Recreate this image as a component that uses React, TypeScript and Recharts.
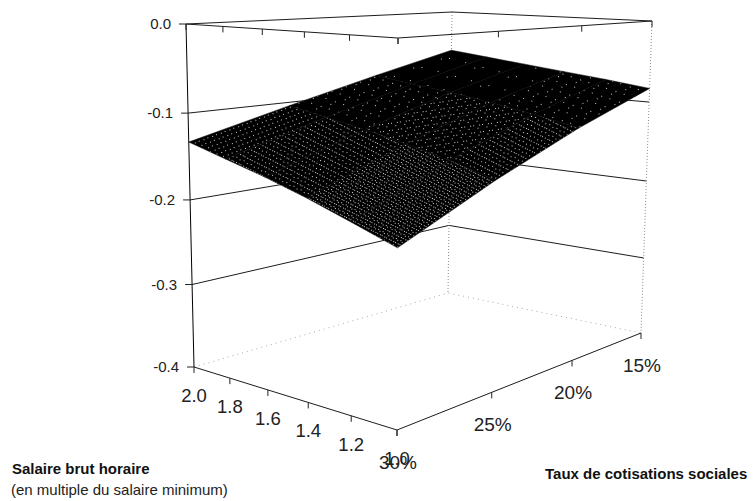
import { ScatterChart, Scatter, XAxis, YAxis } from 'recharts'

const wages = [2.0, 1.8, 1.6, 1.4, 1.2, 1.0]
const rates = [15, 20, 25, 30]
const zTicks = [0, -0.1, -0.2, -0.3, -0.4]

// effect, one row per rate, one column per wage
const surface = [
  [-0.052, -0.058, -0.064, -0.07, -0.076, -0.083],
  [-0.077, -0.084, -0.09, -0.098, -0.107, -0.118],
  [-0.104, -0.113, -0.122, -0.133, -0.145, -0.16],
  [-0.133, -0.146, -0.159, -0.174, -0.191, -0.209],
]

// which dot texture each surface cell gets, same layout as surface
const cellTexture = [
  ['tex0', 'tex0', 'tex0', 'tex1', 'tex1'],
  ['tex1', 'tex1', 'tex2', 'tex2', 'tex4'],
  ['tex3', 'tex4', 'tex4', 'tex5', 'tex5'],
]

// box corners in page pixels: wage 2/rate 30, wage 1/rate 30, wage 1/rate 15, wage 2/rate 15
const floorCorners = [[194, 367], [397, 430], [641, 333], [448, 293]]
const topCorners = [[186, 24], [398, 38], [652, 21], [452, 12]]

function homography(c: number[][]) {
  const [[x0, y0], [x1, y1], [x2, y2], [x3, y3]] = c
  const dx1 = x1 - x2, dx2 = x3 - x2, sx = x0 - x1 + x2 - x3
  const dy1 = y1 - y2, dy2 = y3 - y2, sy = y0 - y1 + y2 - y3
  const den = dx1 * dy2 - dx2 * dy1
  const g = (sx * dy2 - dx2 * sy) / den
  const h = (dx1 * sy - sx * dy1) / den
  const a = x1 - x0 + g * x1, b = x3 - x0 + h * x3
  const d = y1 - y0 + g * y1, e = y3 - y0 + h * y3
  return (u: number, v: number) => {
    const w = g * u + h * v + 1
    return [(a * u + b * v + x0) / w, (d * u + e * v + y0) / w]
  }
}

const floorMap = homography(floorCorners)
const topMap = homography(topCorners)

function project(wage: number, rate: number, z: number, extra = {}) {
  const u = 2 - wage
  const v = (30 - rate) / 15
  const q = (z + 0.4) / 0.4
  const f = q / (1 + 0.053 * (1 - q))
  const [fx, fy] = floorMap(u, v)
  const [tx, ty] = topMap(u, v)
  return { px: fx + (tx - fx) * f, py: fy + (ty - fy) * f, ...extra }
}

const Empty = () => <g />

const wallLine = (z: number) => [project(2, 30, z), project(2, 15, z), project(1, 15, z)]

const topFrame = [project(2, 30, 0), project(1, 30, 0), project(1, 15, 0), project(2, 15, 0), project(2, 30, 0)]
const frontEdges = [project(2, 30, -0.4), project(1, 30, -0.4), project(1, 15, -0.4)]
const zAxisLine = [project(2, 30, 0), project(2, 30, -0.4)]
const backVertical = [project(2, 15, 0), project(2, 15, -0.4)]
const rightVertical = [project(1, 15, 0), project(1, 15, -0.4)]

const wageEdgeTicks = wages.flatMap((w) => [project(w, 30, -0.4), project(w, 30, 0)])
const rateEdgeTicks = rates.flatMap((r) => [project(1, r, -0.4), project(1, r, 0)])
const zAxisTicks = zTicks.map((z) => project(2, 30, z, { label: z.toFixed(1) }))
const wageLabels = wages.map((w) => project(w, 30, -0.4, { label: w.toFixed(1) }))
const rateLabels = rates.map((r) => project(1, r, -0.4, { label: `${r}%` }))

const surfaceCells = cellTexture.flatMap((row, j) =>
  row.map((tex, i) => ({
    tex,
    corners: [
      project(wages[i], rates[j], surface[j][i]),
      project(wages[i + 1], rates[j], surface[j][i + 1]),
      project(wages[i + 1], rates[j + 1], surface[j + 1][i + 1]),
      project(wages[i], rates[j + 1], surface[j + 1][i]),
      project(wages[i], rates[j], surface[j][i]),
    ],
  })),
)

const font = 'Liberation Sans, Arial, sans-serif'

const DownTick = (p: any) => <line x1={p.cx} y1={p.cy} x2={p.cx} y2={p.cy + 6} stroke="#222" />
const LeftTick = (p: any) => <line x1={p.cx - 7} y1={p.cy} x2={p.cx} y2={p.cy} stroke="#222" />

const axisLabel = (dx: number, dy: number, size: number, anchor: string) => (p: any) => (
  <text x={p.cx + dx} y={p.cy + dy} fontSize={size} fontFamily={font} fill="#222" textAnchor={anchor}>
    {p.payload.label}
  </text>
)

const solid = { stroke: '#1c1c1c', strokeWidth: 1, fill: 'none' }
const dotted = { stroke: '#8a8a8a', strokeWidth: 1, strokeDasharray: '1 2', fill: 'none' }
const faint = { stroke: '#aaa', strokeWidth: 1, strokeDasharray: '1 4', fill: 'none' }

const Dots = ({ id, w, h, angle, dots }: { id: string; w: number; h: number; angle: number; dots: number[][] }) => (
  <pattern id={id} patternUnits="userSpaceOnUse" width={w} height={h} patternTransform={`rotate(${angle})`}>
    <rect width={w} height={h} fill="#000" />
    {dots.map(([x, y], i) => (
      <rect key={i} x={x} y={y} width={1} height={1} fill="#fff" fillOpacity={0.8} />
    ))}
  </pattern>
)

export default function App() {
  return (
    <div style={{ position: 'absolute', left: 0, top: 0, width: 755, height: 501, background: '#fff' }}>
      <ScatterChart width={755} height={501} margin={{ top: 0, right: 0, bottom: 0, left: 0 }}>
        <defs>
          <Dots id="tex0" w={29} h={19} angle={-18} dots={[[3, 4], [17, 13], [24, 2]]} />
          <Dots id="tex1" w={15} h={11} angle={-18} dots={[[2, 2], [9, 7], [12, 3]]} />
          <Dots id="tex2" w={9} h={7} angle={-8} dots={[[1, 1], [5, 4], [7, 1]]} />
          <Dots id="tex3" w={7} h={6} angle={20} dots={[[1, 1], [4, 4]]} />
          <Dots id="tex4" w={8} h={9} angle={27} dots={[[1, 1], [4, 1], [7, 1], [2, 5], [6, 6]]} />
          <Dots id="tex5" w={5} h={7} angle={27} dots={[[0, 1], [2, 1], [1, 4], [3, 5]]} />
        </defs>
        <XAxis type="number" dataKey="px" domain={[0, 755]} hide />
        <YAxis type="number" dataKey="py" domain={[0, 501]} reversed hide />

        {zTicks.slice(1, 4).map((z) => (
          <Scatter key={z} data={wallLine(z)} line={solid} shape={Empty} isAnimationActive={false} />
        ))}
        <Scatter data={wallLine(-0.4)} line={faint} shape={Empty} isAnimationActive={false} />
        <Scatter data={backVertical} line={dotted} shape={Empty} isAnimationActive={false} />
        <Scatter data={rightVertical} line={dotted} shape={Empty} isAnimationActive={false} />
        <Scatter data={topFrame} line={solid} shape={Empty} isAnimationActive={false} />
        <Scatter data={zAxisLine} line={{ ...solid, stroke: '#000' }} shape={Empty} isAnimationActive={false} />
        <Scatter data={frontEdges} line={solid} shape={Empty} isAnimationActive={false} />

        <Scatter data={wageEdgeTicks} shape={DownTick} isAnimationActive={false} />
        <Scatter data={rateEdgeTicks} shape={DownTick} isAnimationActive={false} />
        <Scatter data={zAxisTicks} shape={LeftTick} isAnimationActive={false} />

        {surfaceCells.map((cell, i) => (
          <Scatter
            key={i}
            data={cell.corners}
            line={{ fill: `url(#${cell.tex})`, stroke: '#000', strokeWidth: 0.5 }}
            shape={Empty}
            isAnimationActive={false}
          />
        ))}

        <Scatter data={zAxisTicks} shape={axisLabel(-15, 5, 15, 'end')} isAnimationActive={false} />
        <Scatter data={wageLabels} shape={axisLabel(0, 35, 18.5, 'middle')} isAnimationActive={false} />
        <Scatter data={rateLabels} shape={axisLabel(1, 39, 19, 'middle')} isAnimationActive={false} />

        <text x={12} y={474} fontSize={15} fontWeight="bold" fontFamily={font} fill="#111">
          Salaire brut horaire
        </text>
        <text x={11} y={495} fontSize={15} fontFamily={font} fill="#222">
          (en multiple du salaire minimum)
        </text>
        <text x={545} y={479} fontSize={15} fontWeight="bold" fontFamily={font} fill="#111">
          Taux de cotisations sociales
        </text>
      </ScatterChart>
    </div>
  )
}
